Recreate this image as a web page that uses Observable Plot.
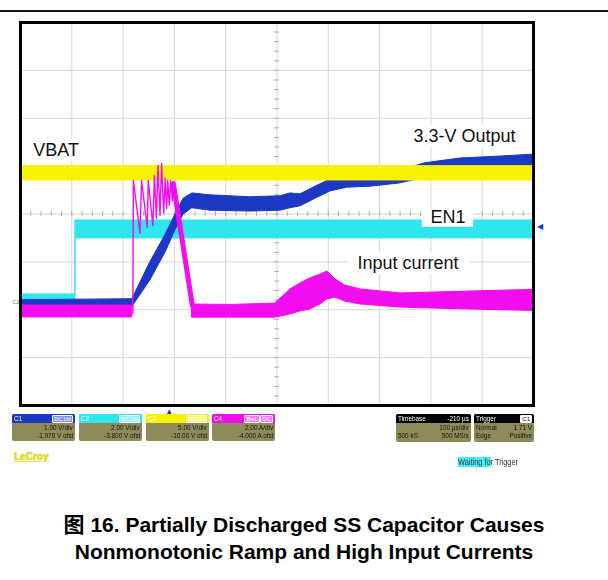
<!DOCTYPE html>
<html><head><meta charset="utf-8">
<script src="https://cdn.jsdelivr.net/npm/d3@7"></script>
<script src="https://cdn.jsdelivr.net/npm/@observablehq/plot@0.6"></script>
<style>
html,body{margin:0;padding:0;background:#fff;}
#wrap{position:relative;width:608px;height:580px;overflow:hidden;font-family:"Liberation Sans",Arial,"Noto Sans CJK SC",sans-serif;}
#topline{position:absolute;left:0;top:10px;width:608px;height:2px;background:#111;}
#chart{position:absolute;left:0;top:0;}
.panel{position:absolute;top:414px;height:27px;background:#8e8b58;border-radius:2px;overflow:hidden;}
.hdr{position:absolute;left:0;right:0;top:0;height:9px;}
.cell{position:absolute;font-size:8px;line-height:8px;height:8px;white-space:nowrap;color:#151515;}
.r{right:2px;transform:scaleX(.8);transform-origin:right center;}
.l{left:2px;transform:scaleX(.8);transform-origin:left center;}
.tag{position:absolute;top:1px;height:6px;line-height:6px;font-size:6px;padding:0 1px;border:1px solid #fff;border-radius:1px;color:#fff;background:rgba(255,255,255,.45);}
#caption{position:absolute;left:0;width:608px;top:511px;text-align:center;font:bold 21px/27px "Liberation Sans",Arial,"Noto Sans CJK SC",sans-serif;color:#000;}
#lecroy{position:absolute;left:14px;top:451px;font:bold 10px "Liberation Sans",Arial,sans-serif;color:#ece22a;text-decoration:underline;text-shadow:0 0 1px #b8a800;}
#waiting{position:absolute;left:458px;top:457px;font-size:9px;line-height:10px;color:#333;white-space:nowrap;transform:scaleX(.82);transform-origin:left center;}
#waiting span{background:#44f0f4;}
</style></head>
<body><div id="wrap"><div id="chart"></div><div id="topline"></div><div id="panels"></div>
<div id="lecroy"></div><div id="waiting"></div><div id="caption"></div></div>
<script>
// ---- Scope channel settings (read from the readout) ----
const channels   = ["C1", "C2", "C3", "C4"];
const coupling   = [["DC1M"], ["DC1M"], ["DC1M"], ["BwL", "DC"]];
const perDiv     = [1.00, 2.00, 5.00, 2.00];
const offsets    = [-1.970, -3.800, -10.00, -4.000];
const units      = ["V", "V", "V", "A"];
const timebase   = {delay: "-210 µs", delayUs: -210, perDiv: "100 µs/div", samples: "500 kS", rate: "500 MS/s"};
const trigger    = {source: "C1", mode: "Normal", levelV: 1.71, type: "Edge", slope: "Positive"};

// ---- Traces: [time µs from left edge, low, high] (noise envelope) ----
// C3: VBAT (V)
const vbat = [[0, 13.5, 15.0], [1000, 13.5, 15.0]];
// C2: EN1 (V)
const en1 = [[0, -0.02, 0.44], [107, -0.02, 0.44], [107, 2.78, 3.53], [1000, 2.78, 3.53]];
// C1: 3.3-V output (V)
const vout = [[0, 0.03, 0.17], [218, 0.03, 0.19], [253, 0.58, 0.96], [283, 1.17, 1.54], [302, 1.63, 1.96],
  [318, 1.96, 2.29], [335, 2.09, 2.40], [370, 2.04, 2.36], [448, 2.02, 2.32], [507, 2.04, 2.34],
  [526, 2.09, 2.40], [546, 2.13, 2.38], [575, 2.29, 2.54], [604, 2.44, 2.69], [637, 2.52, 2.75],
  [682, 2.54, 2.77], [741, 2.61, 2.88], [789, 2.73, 3.03], [858, 2.84, 3.13], [936, 2.88, 3.17], [1000, 2.92, 3.21]];
// C4: input current (A), before and after the inrush burst
const iinPre = [[0, -0.32, 0.18], [218, -0.32, 0.18]];
const iinPost = [[335, -0.33, 0.22], [409, -0.33, 0.20], [497, -0.33, 0.26], [526, -0.20, 0.85],
  [546, -0.07, 1.10], [565, 0.01, 1.31], [585, 0.22, 1.47], [598, 0.43, 1.60], [614, 0.51, 1.27],
  [633, 0.34, 1.01], [663, 0.22, 0.85], [741, 0.09, 0.68], [838, 0.03, 0.74], [1000, -0.05, 0.83]];
// C4 inrush burst: [time µs, A]
const iinBurst = [[219, -0.16], [220, 5.40], [233, 3.19], [236, 5.40], [247, 3.44], [249, 5.40], [258, 3.52],
  [261, 5.61], [265, 3.81], [268, 6.03], [272, 3.94], [275, 6.11], [279, 4.06], [282, 5.48], [285, 4.23],
  [287, 5.40], [290, 4.36], [293, 5.40], [296, 4.56], [298, 5.27], [335, 0.18]];

// ---- Annotations ----
const labels = [
  {text: "VBAT", t: 25, y: 1.33},
  {text: "3.3-V Output", t: 766, y: 1.62},
  {text: "EN1", t: 799, y: -0.06},
  {text: "Input current", t: 657, y: -1.03}
];
const labelBoxes = [
  {x1: 12, x2: 133, y1: 1.10, y2: 1.55},
  {x1: 750, x2: 984, y1: 1.39, y2: 1.85},
  {x1: 783, x2: 883, y1: -0.28, y2: 0.09},
  {x1: 641, x2: 877, y1: -1.28, y2: -0.80}
];
const captionLines = ["图 16. Partially Discharged SS Capacitor Causes", "Nonmonotonic Ramp and High Input Currents"];

// ---- Styles ----
const colors = {C1: "#1d38c4", C2: "#2fe6ef", C3: "#f6f200", C4: "#f20cf0"};

const pos = ch => v => (v + offsets[ch]) / perDiv[ch];
function band(data, ch) {
  const p = pos(ch), c = colors[channels[ch]];
  return Plot.areaY(data, {x: d => d[0], y1: d => p(d[1]), y2: d => p(d[2]), fill: c, stroke: c, strokeWidth: 1, curve: "linear"});
}
const p4 = pos(3);
const trigT = 500 + timebase.delayUs;

const chart = Plot.plot({
  width: 608, height: 480,
  marginLeft: 20, marginRight: 75, marginTop: 22, marginBottom: 75,
  x: {domain: [0, 1000], axis: null},
  y: {domain: [-4, 4], axis: null},
  style: {background: "transparent", overflow: "visible"},
  marks: [
    Plot.ruleX(d3.range(100, 1000, 100), {stroke: "#d6d6d6", strokeWidth: 1}),
    Plot.ruleY(d3.range(-3, 4, 1), {stroke: "#d6d6d6", strokeWidth: 1}),
    Plot.ruleY(d3.range(-4, 4.001, 0.2), {x1: 495, x2: 505, stroke: "#b0b0b0", strokeWidth: 1}),
    Plot.ruleX(d3.range(0, 1000.1, 20), {y1: -0.05, y2: 0.05, stroke: "#b0b0b0", strokeWidth: 1}),
    band(en1, 1),
    band(vout, 0),
    band(vbat, 2),
    band(iinPre, 3),
    band(iinPost, 3),
    Plot.line(iinBurst, {x: d => d[0], y: d => p4(d[1]), stroke: colors.C4, strokeWidth: 1.4}),
    Plot.line(iinBurst.slice(-2), {x: d => d[0], y: d => p4(d[1]), stroke: colors.C4, strokeWidth: 5}),
    Plot.rect(labelBoxes, {x1: "x1", x2: "x2", y1: "y1", y2: "y2", fill: "white"}),
    Plot.text(labels, {x: "t", y: "y", text: "text", textAnchor: "start", fontSize: 18, fill: "#111",
      fontFamily: "Liberation Sans, Arial, sans-serif"}),
    Plot.frame({stroke: "#000", strokeWidth: 3}),
    Plot.text([trigger], {x: 1012, y: d => pos(0)(d.levelV), text: () => "◀", fontSize: 8, fill: colors.C1}),
    Plot.text([trigger], {x: trigT, y: -4.12, text: () => "▲", fontSize: 8, fill: colors.C1}),
    Plot.text(["C2"], {x: -2, y: pos(1)(0) + 0.05, text: d => d, textAnchor: "end", fontSize: 6, fill: "#5b7b8c"})
  ]
});
document.getElementById("chart").appendChild(chart);

// ---- Scope readout panels ----
const panels = document.getElementById("panels");
function panel(left, width, height, hdrBg, hdrLeft, hdrRightHtml, rows) {
  const d = document.createElement("div");
  d.className = "panel";
  d.style.left = left + "px"; d.style.width = width + "px"; d.style.height = height + "px";
  let h = `<div class="hdr" style="background:${hdrBg}"><div class="cell l" style="top:0.5px;color:#fff">${hdrLeft}</div>${hdrRightHtml}</div>`;
  rows.forEach((r, i) => {
    const top = 10 + i * 8;
    if (r[0]) h += `<div class="cell l" style="top:${top}px">${r[0]}</div>`;
    if (r[1]) h += `<div class="cell r" style="top:${top}px">${r[1]}</div>`;
  });
  d.innerHTML = h;
  panels.appendChild(d);
}
const chLeft = [12, 79, 146, 212];
channels.forEach((c, i) => {
  let tags = "", right = 2;
  coupling[i].slice().reverse().forEach(t => {
    tags += `<div class="tag" style="right:${right}px">${t}</div>`;
    right += t.length * 4 + 5;
  });
  panel(chLeft[i], 63, 27, colors[c], c, tags, [
    ["", perDiv[i].toFixed(2) + " " + units[i] + "/div"],
    ["", offsets[i].toPrecision(4) + " " + units[i] + " ofst"]
  ]);
});
panel(396, 75, 28, "#000", "Timebase", `<div class="cell r" style="top:0.5px;color:#fff">${timebase.delay}</div>`, [
  ["", timebase.perDiv], [timebase.samples, timebase.rate]
]);
panel(474, 60, 28, "#000", "Trigger", `<div class="tag" style="right:2px;background:#fff;color:#000;border-color:#fff">${trigger.source}</div>`, [
  [trigger.mode, trigger.levelV.toFixed(2) + " V"], [trigger.type, trigger.slope]
]);
document.getElementById("lecroy").textContent = "LeCroy";
document.getElementById("waiting").innerHTML = "<span>Waiting fo</span>r Trigger";
document.getElementById("caption").innerHTML = captionLines.join("<br>");
</script></body></html>
